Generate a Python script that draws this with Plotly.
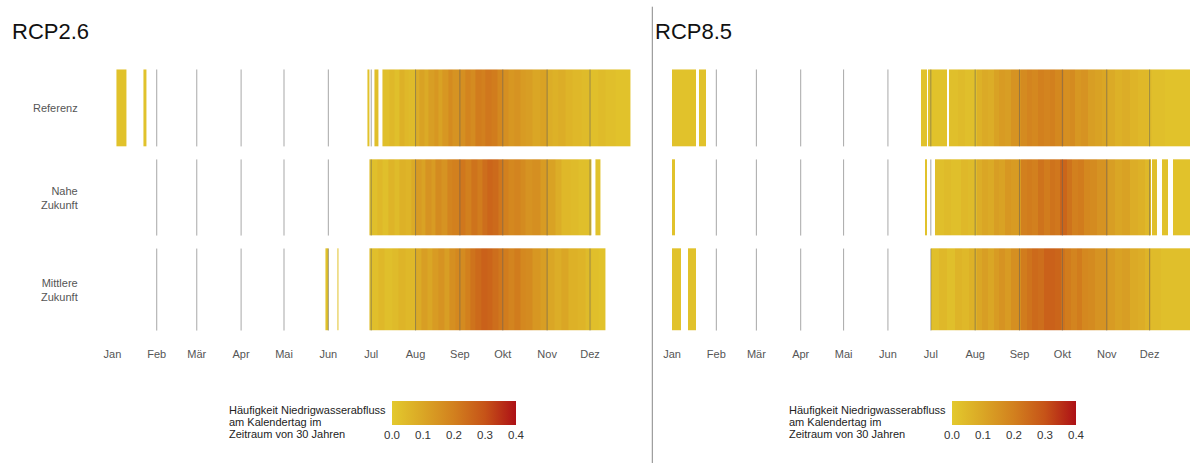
import plotly.graph_objects as go

# ---- categories / labels -------------------------------------------------
MONTHS = ["Jan", "Feb", "Mär", "Apr", "Mai", "Jun", "Jul", "Aug", "Sep", "Okt", "Nov", "Dez"]
MONTH_START = [1, 32, 60, 91, 121, 152, 182, 213, 244, 274, 305, 335]  # day of year
ROWS = ["Referenz", "Nahe<br>Zukunft", "Mittlere<br>Zukunft"]
PANELS = ["RCP2.6", "RCP8.5"]
CB_TITLE = ["Häufigkeit Niedrigwasserabfluss", "am Kalendertag im", "Zeitraum von 30 Jahren"]
N_DAYS = 365

# ---- low-flow frequency per calendar day: (first day, last day, value) ----
RCP26_REFERENZ = [
    (4, 10, 0.02), (23, 24, 0.02), (179, 180, 0.02), (184, 186, 0.03),
    (190, 194, 0.03), (195, 197, 0.05), (198, 201, 0.03), (202, 204, 0.07), (205, 207, 0.05), (208, 212, 0.04),
    (213, 215, 0.08), (216, 218, 0.11), (219, 221, 0.09), (222, 225, 0.12), (226, 228, 0.14), (229, 231, 0.11),
    (232, 235, 0.14), (236, 238, 0.17), (239, 243, 0.15),
    (244, 247, 0.16), (248, 250, 0.19), (251, 254, 0.17), (255, 258, 0.21), (259, 261, 0.20), (262, 265, 0.22),
    (266, 269, 0.21), (270, 273, 0.18),
    (274, 277, 0.16), (278, 281, 0.14), (282, 285, 0.15), (286, 289, 0.13), (290, 294, 0.12), (295, 299, 0.10),
    (300, 304, 0.11),
    (305, 308, 0.08), (309, 312, 0.07), (313, 317, 0.08), (318, 322, 0.06), (323, 328, 0.05), (329, 334, 0.04),
    (335, 340, 0.03), (341, 345, 0.04), (346, 352, 0.03), (353, 362, 0.02),
]
RCP26_NAHE = [
    (181, 185, 0.03), (186, 189, 0.05), (190, 193, 0.03), (194, 197, 0.06), (198, 201, 0.04), (202, 205, 0.07),
    (206, 209, 0.06), (210, 212, 0.09),
    (213, 216, 0.13), (217, 219, 0.11), (220, 223, 0.15), (224, 226, 0.13), (227, 230, 0.17), (231, 234, 0.15),
    (235, 238, 0.19), (239, 243, 0.20),
    (244, 247, 0.22), (248, 251, 0.20), (252, 255, 0.23), (256, 259, 0.21), (260, 262, 0.24), (263, 266, 0.26),
    (267, 270, 0.25), (271, 273, 0.22),
    (274, 277, 0.20), (278, 281, 0.18), (282, 285, 0.19), (286, 289, 0.17), (290, 294, 0.15), (295, 299, 0.16),
    (300, 304, 0.13),
    (305, 310, 0.11), (311, 314, 0.08), (315, 320, 0.05), (321, 326, 0.04), (327, 335, 0.03),
    (339, 341, 0.02),
]
RCP26_MITTEL = [
    (150, 151, 0.02), (158, 158, 0.02),
    (181, 186, 0.03), (187, 190, 0.05), (191, 196, 0.03), (197, 200, 0.04), (201, 205, 0.06), (206, 212, 0.05),
    (213, 216, 0.09), (217, 220, 0.12), (221, 224, 0.10), (225, 228, 0.13), (229, 232, 0.15), (233, 236, 0.12),
    (237, 240, 0.16), (241, 243, 0.18),
    (244, 247, 0.17), (248, 250, 0.20), (251, 254, 0.23), (255, 258, 0.25), (259, 262, 0.27), (263, 266, 0.26),
    (267, 270, 0.24), (271, 273, 0.22),
    (274, 277, 0.21), (278, 281, 0.19), (282, 285, 0.21), (286, 289, 0.18), (290, 294, 0.17), (295, 299, 0.14),
    (300, 304, 0.12),
    (305, 309, 0.10), (310, 314, 0.08), (315, 319, 0.10), (320, 325, 0.07), (326, 331, 0.06), (332, 335, 0.04),
    (336, 340, 0.03), (341, 345, 0.02),
]
RCP85_REFERENZ = [
    (1, 17, 0.02), (20, 24, 0.02), (175, 178, 0.02), (180, 192, 0.02),
    (195, 200, 0.03), (201, 205, 0.04), (206, 213, 0.03),
    (214, 217, 0.07), (218, 221, 0.09), (222, 225, 0.08), (226, 229, 0.11), (230, 233, 0.13), (234, 237, 0.12),
    (238, 244, 0.15),
    (245, 248, 0.17), (249, 252, 0.19), (253, 256, 0.18), (257, 260, 0.20), (261, 264, 0.19), (265, 268, 0.20),
    (269, 274, 0.18),
    (275, 278, 0.16), (279, 282, 0.17), (283, 286, 0.14), (287, 291, 0.15), (292, 296, 0.12), (297, 301, 0.11),
    (302, 305, 0.10),
    (306, 310, 0.09), (311, 315, 0.07), (316, 320, 0.08), (321, 326, 0.06), (327, 333, 0.05), (334, 336, 0.04),
    (337, 345, 0.03), (346, 362, 0.02),
]
RCP85_NAHE = [
    (1, 2, 0.02), (178, 178, 0.02),
    (185, 190, 0.03), (191, 195, 0.04), (196, 202, 0.03), (203, 207, 0.05), (208, 213, 0.04),
    (214, 217, 0.08), (218, 221, 0.10), (222, 225, 0.09), (226, 229, 0.12), (230, 233, 0.11), (234, 237, 0.14),
    (238, 244, 0.13),
    (245, 248, 0.20), (249, 252, 0.21), (253, 256, 0.20), (257, 260, 0.23), (261, 264, 0.21), (265, 268, 0.23),
    (269, 271, 0.22), (272, 276, 0.26),
    (277, 280, 0.23), (281, 284, 0.20), (285, 288, 0.21), (289, 292, 0.18), (293, 297, 0.17), (298, 305, 0.15),
    (306, 310, 0.12), (311, 315, 0.10), (316, 320, 0.11), (321, 326, 0.08), (327, 331, 0.07), (332, 335, 0.05),
    (337, 339, 0.03), (344, 347, 0.02), (351, 362, 0.02),
]
RCP85_MITTEL = [
    (1, 6, 0.02), (12, 17, 0.02),
    (182, 187, 0.03), (188, 192, 0.05), (193, 198, 0.03), (199, 203, 0.06), (204, 208, 0.05), (209, 213, 0.07),
    (214, 217, 0.10), (218, 221, 0.12), (222, 225, 0.10), (226, 229, 0.13), (230, 233, 0.15), (234, 237, 0.13),
    (238, 244, 0.16),
    (245, 248, 0.21), (249, 252, 0.23), (253, 256, 0.25), (257, 260, 0.24), (261, 264, 0.27), (265, 268, 0.27),
    (269, 272, 0.26), (273, 275, 0.23),
    (276, 279, 0.21), (280, 283, 0.19), (284, 287, 0.21), (288, 291, 0.18), (292, 296, 0.17), (297, 305, 0.15),
    (306, 310, 0.13), (311, 315, 0.11), (316, 320, 0.12), (321, 326, 0.09), (327, 331, 0.08), (332, 335, 0.06),
    (336, 342, 0.04), (343, 362, 0.03),
]

DATA = {
    "RCP2.6": [RCP26_REFERENZ, RCP26_NAHE, RCP26_MITTEL],
    "RCP8.5": [RCP85_REFERENZ, RCP85_NAHE, RCP85_MITTEL],
}

# ---- styling ------------------------------------------------------------
FONT = "Liberation Sans, Arial, sans-serif"
COLORSCALE = [
    [0.00, "#e3c92d"],
    [0.25, "#daa625"],
    [0.50, "#d2801e"],
    [0.75, "#c65318"],
    [1.00, "#ad1016"],
]
W, H = 1192, 463
# row bands (top, bottom) on the y axis, with white gaps between them
ROW_BANDS = [(0, 77), (90, 166), (179, 261)]
Y_EDGES = [0, 77, 90, 166, 179, 261]
PX_PER_DAY = 1.43
PANEL_LEFT = [112.4, 672.0]       # pixel x of 1 Jan for each panel
HEAT_TOP, HEAT_BOTTOM = 69.3, 330.7
CB_LEFT = [392, 952]
CB_TOP, CB_THICK, CB_LEN = 401, 23.5, 124
CB_TITLE_LEFT = [226.5, 786.5]
CB_TITLE_Y = [410, 422, 434]


def expand(runs):
    """Turn (first, last, value) runs into one value per calendar day."""
    z = [None] * N_DAYS
    for first, last, val in runs:
        for d in range(first, last + 1):
            z[d - 1] = val
    return z


days = list(range(1, N_DAYS + 1))
gap_row = [None] * N_DAYS

fig = go.Figure()
shapes = []
annotations = []

for i, panel in enumerate(PANELS):
    rows = [expand(r) for r in DATA[panel]]
    z = [rows[0], gap_row, rows[1], gap_row, rows[2]]
    xa = "x" if i == 0 else "x2"
    ya = "y" if i == 0 else "y2"
    fig.add_trace(go.Heatmap(
        x=days, y=Y_EDGES, z=z,
        xaxis=xa, yaxis=ya,
        colorscale=COLORSCALE, zmin=0, zmax=0.4,
        hoverongaps=False,
        colorbar=dict(
            orientation="h",
            x=CB_LEFT[i] / W, xanchor="left",
            y=1 - CB_TOP / H, yanchor="top",
            len=CB_LEN, lenmode="pixels",
            thickness=CB_THICK, thicknessmode="pixels",
            xpad=0, ypad=0, outlinewidth=0,
            tickvals=[0, 0.1, 0.2, 0.3, 0.4],
            ticktext=["0.0", "0.1", "0.2", "0.3", "0.4"],
            ticks="", ticklen=0,
            tickfont=dict(family=FONT, size=11.5, color="#333"),
        ),
    ))

    # month separator lines inside each row band
    for s in MONTH_START[1:]:
        for top, bot in ROW_BANDS:
            shapes.append(dict(type="line", xref=xa, yref=ya,
                               x0=s - 0.5, x1=s - 0.5, y0=top, y1=bot,
                               line=dict(color="rgba(95,95,95,0.55)", width=1)))

    # panel title
    annotations.append(dict(text=panel, xref="paper", yref="paper",
                            x=(10 if i == 0 else 653) / W, y=1 - 32 / H,
                            xanchor="left", yanchor="middle", showarrow=False,
                            font=dict(family=FONT, size=22, color="#111")))
    # colour bar caption
    for line, yy in zip(CB_TITLE, CB_TITLE_Y):
        annotations.append(dict(text=line, xref="paper", yref="paper",
                                x=CB_TITLE_LEFT[i] / W, y=1 - yy / H,
                                xanchor="left", yanchor="middle", showarrow=False,
                                font=dict(family=FONT, size=11, color="#222")))

# row labels on the left panel
for label, (top, bot) in zip(ROWS, ROW_BANDS):
    annotations.append(dict(text=label, xref="paper", yref="y",
                            x=80 / W, y=(top + bot) / 2,
                            xanchor="right", yanchor="middle", align="right",
                            showarrow=False,
                            font=dict(family=FONT, size=11, color="#555")))

# vertical divider between the two scenarios
shapes.append(dict(type="line", xref="paper", yref="paper",
                   x0=652.3 / W, x1=652.3 / W, y0=0, y1=1 - 6.7 / H,
                   line=dict(color="#888", width=1)))

x_common = dict(
    tickvals=[s - 0.5 for s in MONTH_START], ticktext=MONTHS,
    showgrid=False, zeroline=False, showline=False, ticks="",
    tickfont=dict(family=FONT, size=11, color="#555"),
    ticklabelstandoff=15, fixedrange=True, automargin=False,
)
y_common = dict(
    range=[Y_EDGES[-1], Y_EDGES[0]], domain=[1 - HEAT_BOTTOM / H, 1 - HEAT_TOP / H],
    showgrid=False, zeroline=False, showline=False, showticklabels=False, ticks="",
    fixedrange=True, automargin=False,
)
right_days = (W - PANEL_LEFT[1]) / PX_PER_DAY

fig.update_layout(
    width=W, height=H, autosize=False,
    margin=dict(l=0, r=0, t=0, b=0, pad=0, autoexpand=False),
    paper_bgcolor="white", plot_bgcolor="white",
    font=dict(family=FONT),
    xaxis=dict(domain=[PANEL_LEFT[0] / W, (PANEL_LEFT[0] + N_DAYS * PX_PER_DAY) / W],
               range=[0.5, N_DAYS + 0.5], anchor="y", **x_common),
    xaxis2=dict(domain=[PANEL_LEFT[1] / W, 1.0],
                range=[0.5, 0.5 + right_days], anchor="y2", **x_common),
    yaxis=dict(anchor="x", **y_common),
    yaxis2=dict(anchor="x2", **y_common),
    shapes=shapes,
    annotations=annotations,
    showlegend=False,
)

fig.write_html(
    "out.html",
    config={"displayModeBar": False},
    post_script="document.body.style.margin='0';",
)
